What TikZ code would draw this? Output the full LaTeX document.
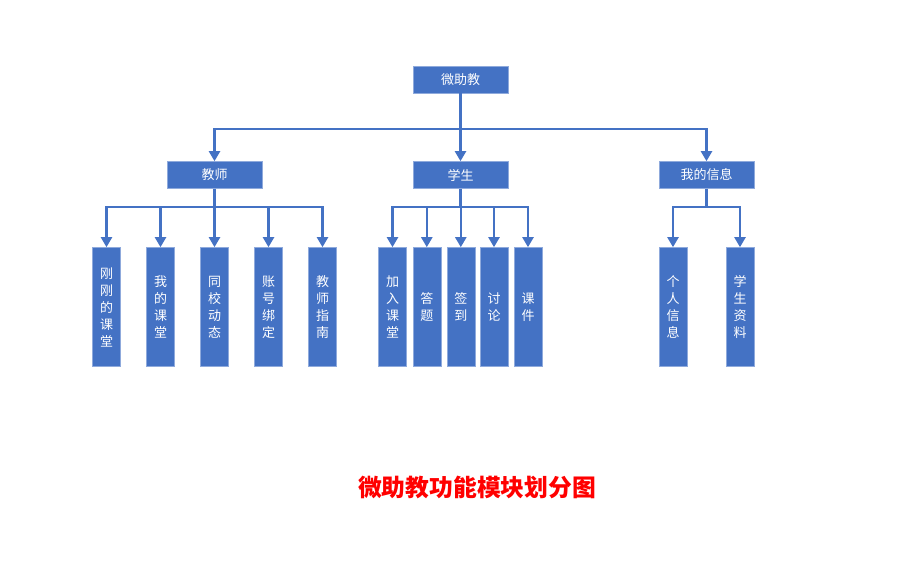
\documentclass[tikz,border=0pt]{standalone}
\usepackage{fontspec}
\newfontfamily\cjk{Noto Sans CJK SC}
\usetikzlibrary{arrows.meta}
\definecolor{boxblue}{HTML}{4472C4}
\definecolor{edgeblue}{HTML}{8FAADC}
\definecolor{titlered}{HTML}{FF0000}
\begin{document}
\begin{tikzpicture}[x=1pt,y=-1pt,
  every node/.style={font=\cjk\fontsize{13}{17}\selectfont, text=white, inner sep=0pt},
  topbox/.style={fill=boxblue, draw=edgeblue, line width=0.6pt, minimum width=95pt, minimum height=27pt},
  leaf/.style={fill=boxblue, draw=edgeblue, line width=0.6pt, minimum width=28pt, minimum height=119pt, align=center},
  conn/.style={draw=boxblue, line width=2.2pt},
  arr/.style={conn, -{Triangle[width=11pt,length=10pt]}}]
\useasboundingbox (0,0) rectangle (914,572);
% top level
\node[topbox] (root) at (460.5,79.5) {微助教};
\node[topbox] (t) at (214.5,175) {教师};
\node[topbox] (s) at (460.5,175) {学生};
\node[topbox] (m) at (706.5,175) {我的信息};
\coordinate (j0) at (460.5,129);
\draw[conn] (root.south) -- (j0);
\draw[arr] (j0) -- (s.north);
\draw[arr] (j0) -| (t.north);
\draw[arr] (j0) -| (m.north);
% teacher leaves
\node[leaf] (t1) at (106.5,307) {刚\\刚\\的\\课\\堂};
\node[leaf] (t2) at (160.5,307) {我\\的\\课\\堂};
\node[leaf] (t3) at (214.5,307) {同\\校\\动\\态};
\node[leaf] (t4) at (268.5,307) {账\\号\\绑\\定};
\node[leaf] (t5) at (322.5,307) {教\\师\\指\\南};
\coordinate (jt) at (214.5,207);
\draw[conn] (t.south) -- (jt);
\foreach \n in {t1,t2,t3,t4,t5} \draw[arr] (jt) -| (\n.north);
% student leaves
\node[leaf] (s1) at (392.5,307) {加\\入\\课\\堂};
\node[leaf] (s2) at (426.8,307) {答\\题};
\node[leaf] (s3) at (460.8,307) {签\\到};
\node[leaf] (s4) at (494,307) {讨\\论};
\node[leaf] (s5) at (528,307) {课\\件};
\coordinate (js) at (460.5,207);
\draw[conn] (s.south) -- (js);
\foreach \n in {s1,s2,s3,s4,s5} \draw[arr] (js) -| (\n.north);
% info leaves
\node[leaf] (m1) at (673,307) {个\\人\\信\\息};
\node[leaf] (m2) at (740,307) {学\\生\\资\\料};
\coordinate (jm) at (706.5,207);
\draw[conn] (m.south) -- (jm);
\foreach \n in {m1,m2} \draw[arr] (jm) -| (\n.north);
% title
\node[text=titlered, font=\cjk\bfseries\fontsize{23.8}{28}\selectfont] (title) at (477,487) {微助教功能模块划分图};
\end{tikzpicture}
\end{document}
